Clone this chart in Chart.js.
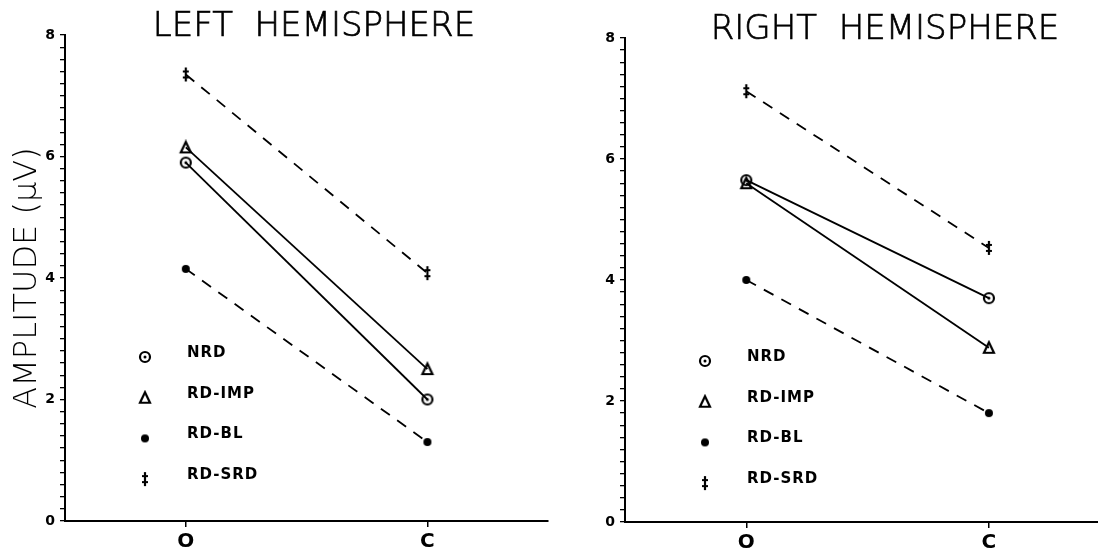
<!DOCTYPE html>
<html>
<head>
<meta charset="utf-8">
<script src="https://cdn.jsdelivr.net/npm/chart.js@4.4.0/dist/chart.umd.min.js"></script>
<style>
  html, body { margin: 0; padding: 0; background: #fff; width: 1098px; height: 560px; overflow: hidden; position: relative; }
  /* canvases are 8px wider than their slot: the last x label's half width is kept as right margin */
  #left { position: absolute; left: 0; top: 0; width: 556px; height: 560px; }
  #right { position: absolute; left: 548px; top: 0; width: 570px; height: 560px; }
</style>
</head>
<body>
<div id="left"><canvas id="leftChart"></canvas></div>
<div id="right"><canvas id="rightChart"></canvas></div>
<script>
const conditions = ['O', 'C'];
const groups = ['NRD', 'RD-IMP', 'RD-BL', 'RD-SRD'];

// amplitudes (µV) per hemisphere, in order O, C
const leftNRD = [5.9, 2.0];
const leftIMP = [6.15, 2.5];
const leftBL = [4.15, 1.3];
const leftSRD = [7.35, 4.08];

const rightNRD = [5.65, 3.7];
const rightIMP = [5.6, 2.88];
const rightBL = [4.0, 1.8];
const rightSRD = [7.12, 4.53];

// small canvases used as point symbols
function marker(draw) {
    const c = document.createElement('canvas');
    c.width = 16; c.height = 16;
    const ctx = c.getContext('2d');
    ctx.strokeStyle = '#000';
    ctx.fillStyle = '#000';
    ctx.lineWidth = 2.2;
    draw(ctx);
    return c;
}

const circleDot = marker(function(ctx) {
    ctx.beginPath(); ctx.arc(8, 8, 5, 0, Math.PI * 2); ctx.stroke();
    ctx.beginPath(); ctx.arc(8, 8, 1.5, 0, Math.PI * 2); ctx.fill();
});
const triangle = marker(function(ctx) {
    ctx.beginPath(); ctx.moveTo(8, 2.5); ctx.lineTo(13, 13); ctx.lineTo(3, 13); ctx.closePath(); ctx.stroke();
});
const dot = marker(function(ctx) {
    ctx.beginPath(); ctx.arc(8, 8, 4, 0, Math.PI * 2); ctx.fill();
});
const dagger = marker(function(ctx) {
    ctx.beginPath(); ctx.moveTo(8, 1); ctx.lineTo(8, 15); ctx.stroke();
    ctx.beginPath(); ctx.moveTo(5, 5); ctx.lineTo(11, 5); ctx.moveTo(5, 11); ctx.lineTo(11, 11); ctx.stroke();
});
const symbols = [circleDot, triangle, dot, dagger];

function series(label, data, symbol, dashed) {
    return {
        label: label,
        data: data,
        borderColor: '#000',
        backgroundColor: '#000',
        borderWidth: 1.8,
        borderDash: dashed ? [11, 9] : [],
        pointStyle: symbol,
        pointRadius: 6,
        pointHoverRadius: 6,
        fill: false,
        tension: 0
    };
}

// panel heading and the symbol key inside the plot
const panelText = {
    id: 'panelText',
    afterDraw(chart, args, opts) {
        const ctx = chart.ctx;
        const area = chart.chartArea;
        ctx.save();
        ctx.fillStyle = '#000';
        ctx.strokeStyle = '#000';
        ctx.lineWidth = 0.7;
        ctx.textBaseline = 'middle';
        ctx.textAlign = 'center';
        ctx.font = '200 34px "DejaVu Sans"';
        ctx.fillText(opts.title, area.left + opts.titleX, opts.titleY);
        ctx.strokeText(opts.title, area.left + opts.titleX, opts.titleY);

        ctx.textAlign = 'left';
        ctx.font = 'bold 15px "DejaVu Sans"';
        ctx.letterSpacing = '1px';
        groups.forEach(function(g, i) {
            const y = area.top + opts.keyY + i * 40.7;
            ctx.drawImage(symbols[i], area.left + 80 - 8, y + 4 - 8);
            ctx.fillText(g, area.left + 122, y);
        });
        ctx.restore();
    }
};

function panel(id, title, nrd, imp, bl, srd, o) {
    return new Chart(document.getElementById(id).getContext('2d'), {
        type: 'line',
        data: {
            labels: conditions,
            datasets: [
                series('RD-SRD', srd, dagger, true),
                series('RD-BL', bl, dot, true),
                series('RD-IMP', imp, triangle, false),
                series('NRD', nrd, circleDot, false)
            ]
        },
        options: {
            responsive: true,
            maintainAspectRatio: false,
            animation: false,
            events: [],
            layout: { padding: { top: o.top, left: 0, right: 0, bottom: 0 } },
            plugins: {
                legend: { display: false },
                tooltip: { enabled: false },
                panelText: { title: title, titleX: o.titleX, titleY: o.titleY, keyY: o.keyY }
            },
            scales: {
                x: {
                    offset: true,
                    grid: { offset: false, drawOnChartArea: false, tickLength: 6, color: '#000', lineWidth: 1.5 },
                    border: { color: '#000', width: 2 },
                    ticks: { color: '#000', padding: 3, font: { family: 'DejaVu Sans', size: 20, weight: 'bold' } },
                    afterFit(scale) { scale.height = 560 - o.bottom; }
                },
                y: {
                    min: 0,
                    max: 8,
                    ticks: {
                        stepSize: 0.2,
                        autoSkip: false,
                        color: '#000',
                        padding: 5,
                        font: { family: 'DejaVu Sans', size: 14, weight: 'bold' },
                        callback: function(v) {
                            return Math.abs(v / 2 - Math.round(v / 2)) < 1e-6 ? Math.round(v) : '';
                        }
                    },
                    grid: { drawOnChartArea: false, tickLength: 5, color: '#000', lineWidth: 1.3 },
                    border: { color: '#000', width: 2 },
                    title: {
                        display: o.yTitle,
                        text: 'AMPLITUDE (µV)',
                        color: '#000',
                        padding: { top: 8, bottom: 0 },
                        font: { family: 'DejaVu Sans', size: 32, weight: '200' }
                    },
                    afterFit(scale) { scale.width = o.axisX; }
                }
            }
        },
        plugins: [panelText]
    });
}

var leftPanel = panel('leftChart', 'LEFT  HEMISPHERE', leftNRD, leftIMP, leftBL, leftSRD,
    { top: 35, bottom: 521, axisX: 65, yTitle: true, titleX: 249, titleY: 27, keyY: 318 });
var rightPanel = panel('rightChart', 'RIGHT  HEMISPHERE', rightNRD, rightIMP, rightBL, rightSRD,
    { top: 38, bottom: 522, axisX: 77, yTitle: false, titleX: 260, titleY: 30, keyY: 319 });
</script>
</body>
</html>
